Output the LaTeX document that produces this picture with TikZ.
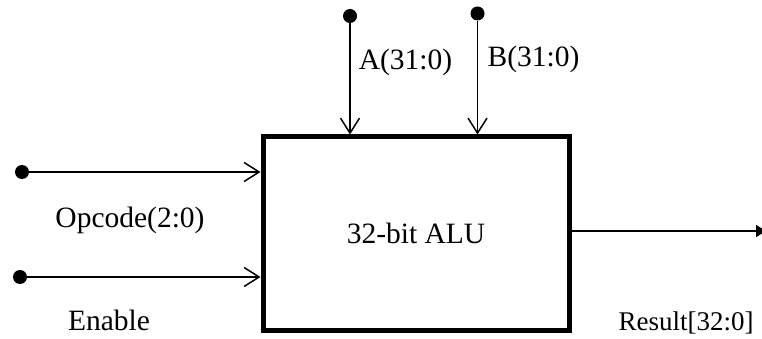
\documentclass[tikz,border=0pt]{standalone}
\usepackage{fontspec}
\setmainfont{Liberation Serif}
\usetikzlibrary{arrows.meta}
\tikzset{>=latex}
\tikzset{
  pin dot/.style = {circle, fill = black, inner sep = 0pt, minimum size = 14pt},
  sig/.style = {line width = 1.5pt, -{Straight Barb[length = 15pt, width = 19pt, line width = 1.5pt]}},
  lbl/.style = {anchor = base, inner sep = 0pt, font = \fontsize{29.5}{32}\selectfont},
}

\begin{document}
\begin{tikzpicture}[x = 1pt, y = -1pt]
\useasboundingbox (0, 0) rectangle (762, 339);
\node[draw, line width = 5pt, minimum width = 306pt, minimum height = 193pt,
      font = \fontsize{29.5}{32}\selectfont] (alu) at (416, 233.5) {32-bit ALU};
% inputs
\node[pin dot] (opc) at (22, 172) {};
\node[pin dot] (en) at (20, 277) {};
\node[pin dot] (ain) at (350, 16) {};
\node[pin dot] (bin) at (477.5, 13.5) {};
\coordinate (res) at (768, 231);
\draw[sig] (opc) -- (opc -| alu.west);
\draw[sig] (en) -- (en -| alu.west);
\draw[sig] (ain) -- (ain |- alu.north);
\draw[sig] (bin) -- (bin |- alu.north);
\draw[line width = 1.5pt, -{Latex[length = 12pt, width = 13pt]}] (alu.east |- res) -- (res);
% labels
\node[lbl] (opclbl) at (130, 227) {Opcode(2:0)};
\node[lbl] (enlbl) at (109, 330) {Enable};
\node[lbl] (albl) at (405.5, 70) {A(31:0)};
\node[lbl] (blbl) at (533.5, 67) {B(31:0)};
\node[lbl, font = \fontsize{27}{30}\selectfont] (reslbl) at (686, 330) {Result[32:0]};
\end{tikzpicture}
\end{document}
